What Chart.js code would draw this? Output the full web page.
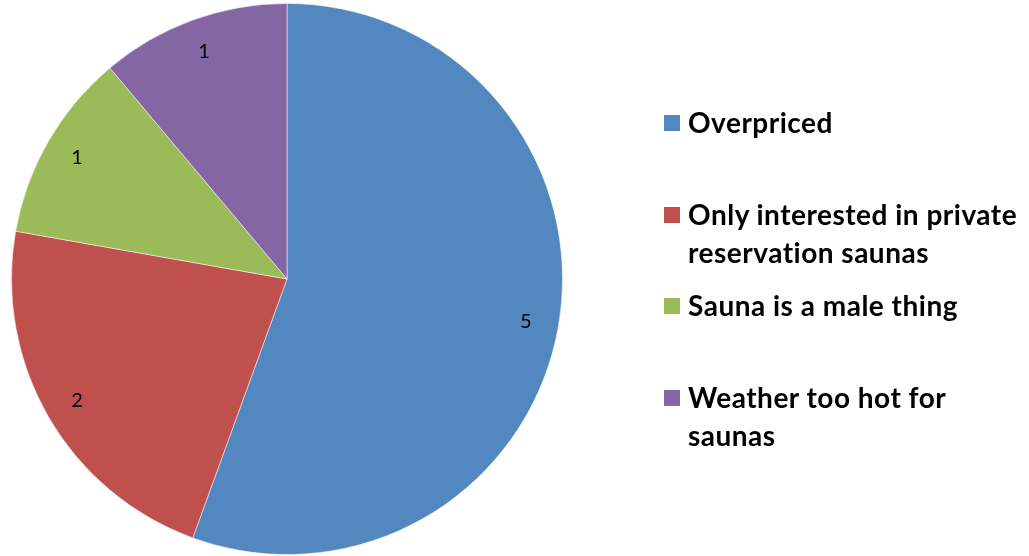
<!DOCTYPE html>
<html>
<head>
<meta charset="utf-8">
<script src="https://cdn.jsdelivr.net/npm/chart.js@4.4.0/dist/chart.umd.min.js"></script>
<style>
  body { margin: 0; background: #fff; }
  #wrap { position: relative; width: 1029px; height: 556px; }
  #legend { position: absolute; left: 664px; top: 0; font-family: Lato, sans-serif; font-weight: bold; font-size: 28px; letter-spacing: 0.5px; color: #000; }
  .item { position: absolute; left: 0; white-space: nowrap; line-height: 38px; }
  .box { position: absolute; left: 0; top: 12px; width: 16px; height: 16px; }
  .txt { position: absolute; left: 24px; top: 0; }
</style>
</head>
<body>
<div id="wrap">
  <canvas id="pie" width="1029" height="556"></canvas>
  <div id="legend"></div>
</div>
<script>
// categories et valeurs
var labels = ['Overpriced', 'Only interested in private reservation saunas', 'Sauna is a male thing', 'Weather too hot for saunas'];
var legendLines = [['Overpriced'], ['Only interested in private', 'reservation saunas'], ['Sauna is a male thing'], ['Weather too hot for', 'saunas']];
var values = [5, 2, 1, 1];
var colors = ['#5387c0', '#c0504d', '#9bbb59', '#8466a4'];
var legendTops = [103, 195, 286, 378];

// etiquettes de valeur sur chaque part
var valueLabels = {
    id: 'valueLabels',
    afterDatasetsDraw: function (chart) {
        var ctx = chart.ctx;
        var meta = chart.getDatasetMeta(0);
        ctx.save();
        ctx.font = '20px Lato, sans-serif';
        ctx.fillStyle = '#000';
        ctx.textAlign = 'center';
        ctx.textBaseline = 'middle';
        meta.data.forEach(function (arc, i) {
            var mid = (arc.startAngle + arc.endAngle) / 2;
            var r = arc.outerRadius * 0.88;
            ctx.fillText(values[i], arc.x + Math.cos(mid) * r, arc.y + Math.sin(mid) * r);
        });
        ctx.restore();
    }
};

var chart = new Chart(document.getElementById('pie'), {
    type: 'pie',
    data: {
        labels: labels,
        datasets: [{
            data: values,
            backgroundColor: colors,
            borderColor: 'rgba(255,255,255,0.5)',
            borderWidth: 1
        }]
    },
    options: {
        responsive: false,
        animation: false,
        layout: { padding: { left: 11, top: 3, bottom: 1, right: 466 } },
        plugins: {
            legend: { display: false },
            tooltip: { enabled: false }
        }
    },
    plugins: [valueLabels]
});

// legende html
var legend = document.getElementById('legend');
legendLines.forEach(function (lines, i) {
    var item = document.createElement('div');
    item.className = 'item';
    item.style.top = legendTops[i] + 'px';
    var box = document.createElement('div');
    box.className = 'box';
    box.style.background = colors[i];
    var txt = document.createElement('div');
    txt.className = 'txt';
    txt.innerHTML = lines.join('<br>');
    item.appendChild(box);
    item.appendChild(txt);
    legend.appendChild(item);
});
</script>
</body>
</html>
